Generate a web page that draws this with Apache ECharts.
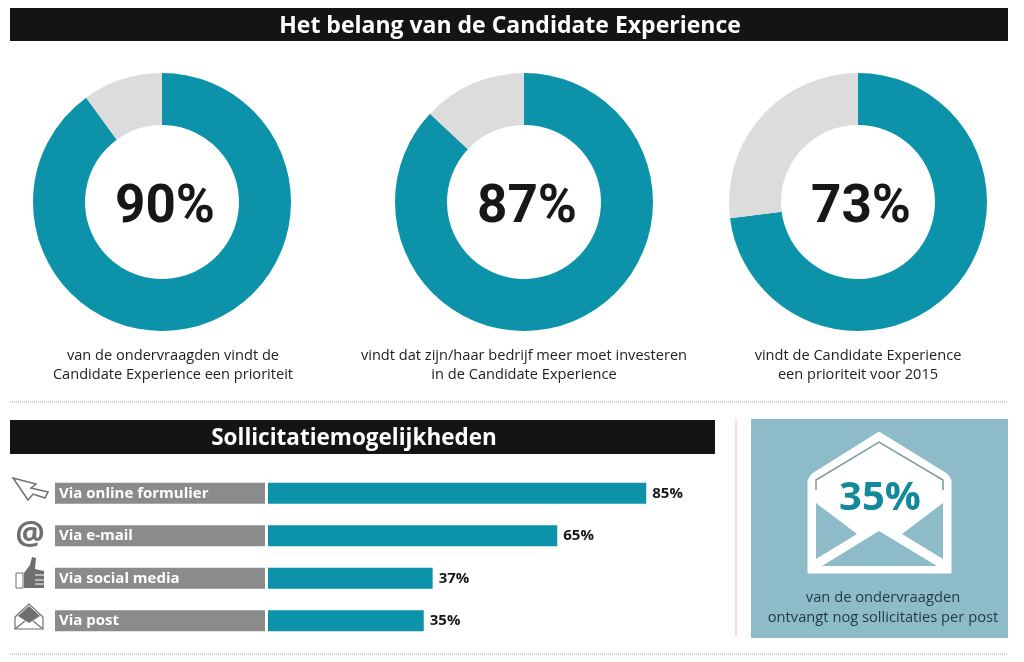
<!DOCTYPE html>
<html>
<head>
<meta charset="utf-8">
<script src="https://cdn.jsdelivr.net/npm/echarts@6/dist/echarts.min.js"></script>
<style>
  html, body { margin: 0; padding: 0; background: #fff; }
  #main { width: 1024px; height: 662px; }
</style>
</head>
<body>
<div id="main"></div>
<script>
var donutValues = [90, 87, 73];
var donutCenters = [162, 524, 858];
var donutCaptions = [
  'van de ondervraagden vindt de\nCandidate Experience een prioriteit',
  'vindt dat zijn/haar bedrijf meer moet investeren\nin de Candidate Experience',
  'vindt de Candidate Experience\neen prioriteit voor 2015'
];
var captionCenters = [173, 524, 858];
var channels = ['Via online formulier', 'Via e-mail', 'Via social media', 'Via post'];
var channelValues = [85, 65, 37, 35];
var postShare = 35;

var TEAL = '#0c93a9';
var FONT = '"Open Sans", "Noto Sans", sans-serif';

var chart = echarts.init(document.getElementById('main'), null, { renderer: 'canvas' });

var pies = donutValues.map(function (v, i) {
  return {
    type: 'pie',
    center: [donutCenters[i], 202],
    radius: [77, 129],
    startAngle: 90,
    clockwise: true,
    silent: true,
    label: { show: false },
    labelLine: { show: false },
    data: [
      { value: v, itemStyle: { color: TEAL } },
      { value: 100 - v, itemStyle: { color: '#dcdcdc' } }
    ]
  };
});

// percentage in het midden van elke ring
var donutLabels = donutValues.map(function (v, i) {
  return {
    type: 'text', x: donutCenters[i] + 3, y: 209,
    style: { text: v + '%', align: 'center', verticalAlign: 'middle', fill: '#171717', fontFamily: 'Roboto', fontWeight: 700, fontSize: 53 }
  };
});

function bar(x, y, w, h, cx, text, size) {
  return [
    { type: 'rect', shape: { x: x, y: y, width: w, height: h }, style: { fill: '#141414' } },
    {
      type: 'text', x: cx, y: y + h / 2 + 2,
      style: { text: text, align: 'center', verticalAlign: 'middle', fill: '#fff', fontFamily: FONT, fontWeight: 700, fontSize: size }
    }
  ];
}

function dotted(x1, y1, x2, y2) {
  return {
    type: 'line', shape: { x1: x1, y1: y1, x2: x2, y2: y2 },
    style: { stroke: '#cfcfcf', lineWidth: 2, lineDash: [1, 1] }
  };
}

function poly(points, fill) {
  return { type: 'polygon', shape: { points: points }, style: { fill: fill } };
}

function stroke(points, color, width) {
  return { type: 'polyline', shape: { points: points }, style: { stroke: color, lineWidth: width, fill: null } };
}

var captions = donutCaptions.map(function (t, i) {
  return {
    type: 'text', x: captionCenters[i], y: 365,
    style: { text: t, align: 'center', verticalAlign: 'middle', lineHeight: 19, fill: '#222', fontFamily: FONT, fontSize: 14.6 }
  };
});

// panel met envelop rechtsonder
var PANEL = '#8dbcc8';
var envelope = [
  { type: 'rect', shape: { x: 751, y: 419, width: 257, height: 219 }, style: { fill: PANEL } },
  {
    type: 'polygon',
    shape: { points: [[808, 573], [808, 480], [812, 474], [879, 432], [947, 474], [951, 480], [951, 573]] },
    style: { fill: '#fff', stroke: '#fff', lineWidth: 1, lineJoin: 'round' }
  },
  poly([[816, 503], [857, 534], [816, 559]], PANEL),
  poly([[943, 503], [902, 534], [943, 559]], PANEL),
  poly([[879, 531], [822, 566], [937, 566]], PANEL),
  stroke([[816, 490], [816, 480], [879, 442], [943, 480], [943, 490]], '#7f9aa3', 1.5),
  {
    type: 'text', x: 880, y: 499,
    style: { text: postShare + '%', align: 'center', verticalAlign: 'middle', fill: '#128a9c', fontFamily: FONT, fontWeight: 700, fontSize: 40 }
  },
  {
    type: 'text', x: 883, y: 608,
    style: { text: 'van de ondervraagden\nontvangt nog sollicitaties per post', align: 'center', verticalAlign: 'middle', lineHeight: 20, fill: '#1f3a44', fontFamily: FONT, fontSize: 14.7 }
  }
];

// kleine iconen links van de balken
var ICON = '#6f6f6f';
var icons = [
  {
    type: 'polygon',
    shape: { points: [[13, 478], [36, 484], [31, 488], [48, 492], [45, 498], [33, 494], [28, 500]] },
    style: { fill: '#fff', stroke: ICON, lineWidth: 1.5 }
  },
  {
    type: 'text', x: 30, y: 535,
    style: { text: '@', align: 'center', verticalAlign: 'middle', fill: ICON, fontFamily: FONT, fontWeight: 700, fontSize: 33 }
  },
  poly([[24, 573], [30, 565], [32, 557], [36, 558], [35, 569], [44, 571], [44, 588], [24, 588]], ICON),
  stroke([[35, 575], [44, 575]], '#fff', 1),
  stroke([[35, 580], [44, 580]], '#fff', 1),
  stroke([[35, 584], [44, 584]], '#fff', 1),
  { type: 'rect', shape: { x: 16, y: 573, width: 7, height: 15 }, style: { fill: '#fff', stroke: ICON, lineWidth: 1 } },
  {
    type: 'polygon',
    shape: { points: [[15, 617], [29, 604], [43, 617], [43, 629], [15, 629]] },
    style: { fill: '#fff', stroke: ICON, lineWidth: 1.2 }
  },
  poly([[18, 616], [29, 606], [40, 616], [29, 623]], ICON),
  stroke([[15, 629], [25, 621]], ICON, 1.2),
  stroke([[43, 629], [33, 621]], ICON, 1.2)
];

var option = {
  backgroundColor: '#ffffff',
  animation: false,
  grid: { left: 268, top: 472, width: 445, height: 170 },
  xAxis: { type: 'value', min: 0, max: 100, show: false },
  yAxis: {
    type: 'category',
    data: channels,
    inverse: true,
    axisLine: { show: false },
    axisTick: { show: false },
    axisLabel: {
      align: 'left',
      margin: 213,
      width: 206,
      height: 21,
      lineHeight: 21,
      padding: [0, 0, 0, 4],
      backgroundColor: '#8b8b8b',
      color: '#fff',
      fontFamily: FONT,
      fontWeight: 700,
      fontSize: 15
    }
  },
  series: pies.concat([{
    type: 'bar',
    data: channelValues,
    barWidth: 21,
    silent: true,
    itemStyle: { color: TEAL },
    label: {
      show: true,
      position: 'right',
      distance: 6,
      formatter: '{c}%',
      color: '#171717',
      fontFamily: FONT,
      fontWeight: 700,
      fontSize: 15
    }
  }]),
  graphic: { elements: [].concat(
    bar(10, 8, 998, 33, 510, 'Het belang van de Candidate Experience', 23),
    bar(10, 420, 705, 34, 354, 'Sollicitatiemogelijkheden', 22.5),
    [dotted(10, 402, 1008, 402), dotted(10, 654, 1008, 654), dotted(736, 420, 736, 636)],
    donutLabels,
    captions,
    envelope,
    icons
  ) }
};
chart.setOption(option);
</script>
</body>
</html>
